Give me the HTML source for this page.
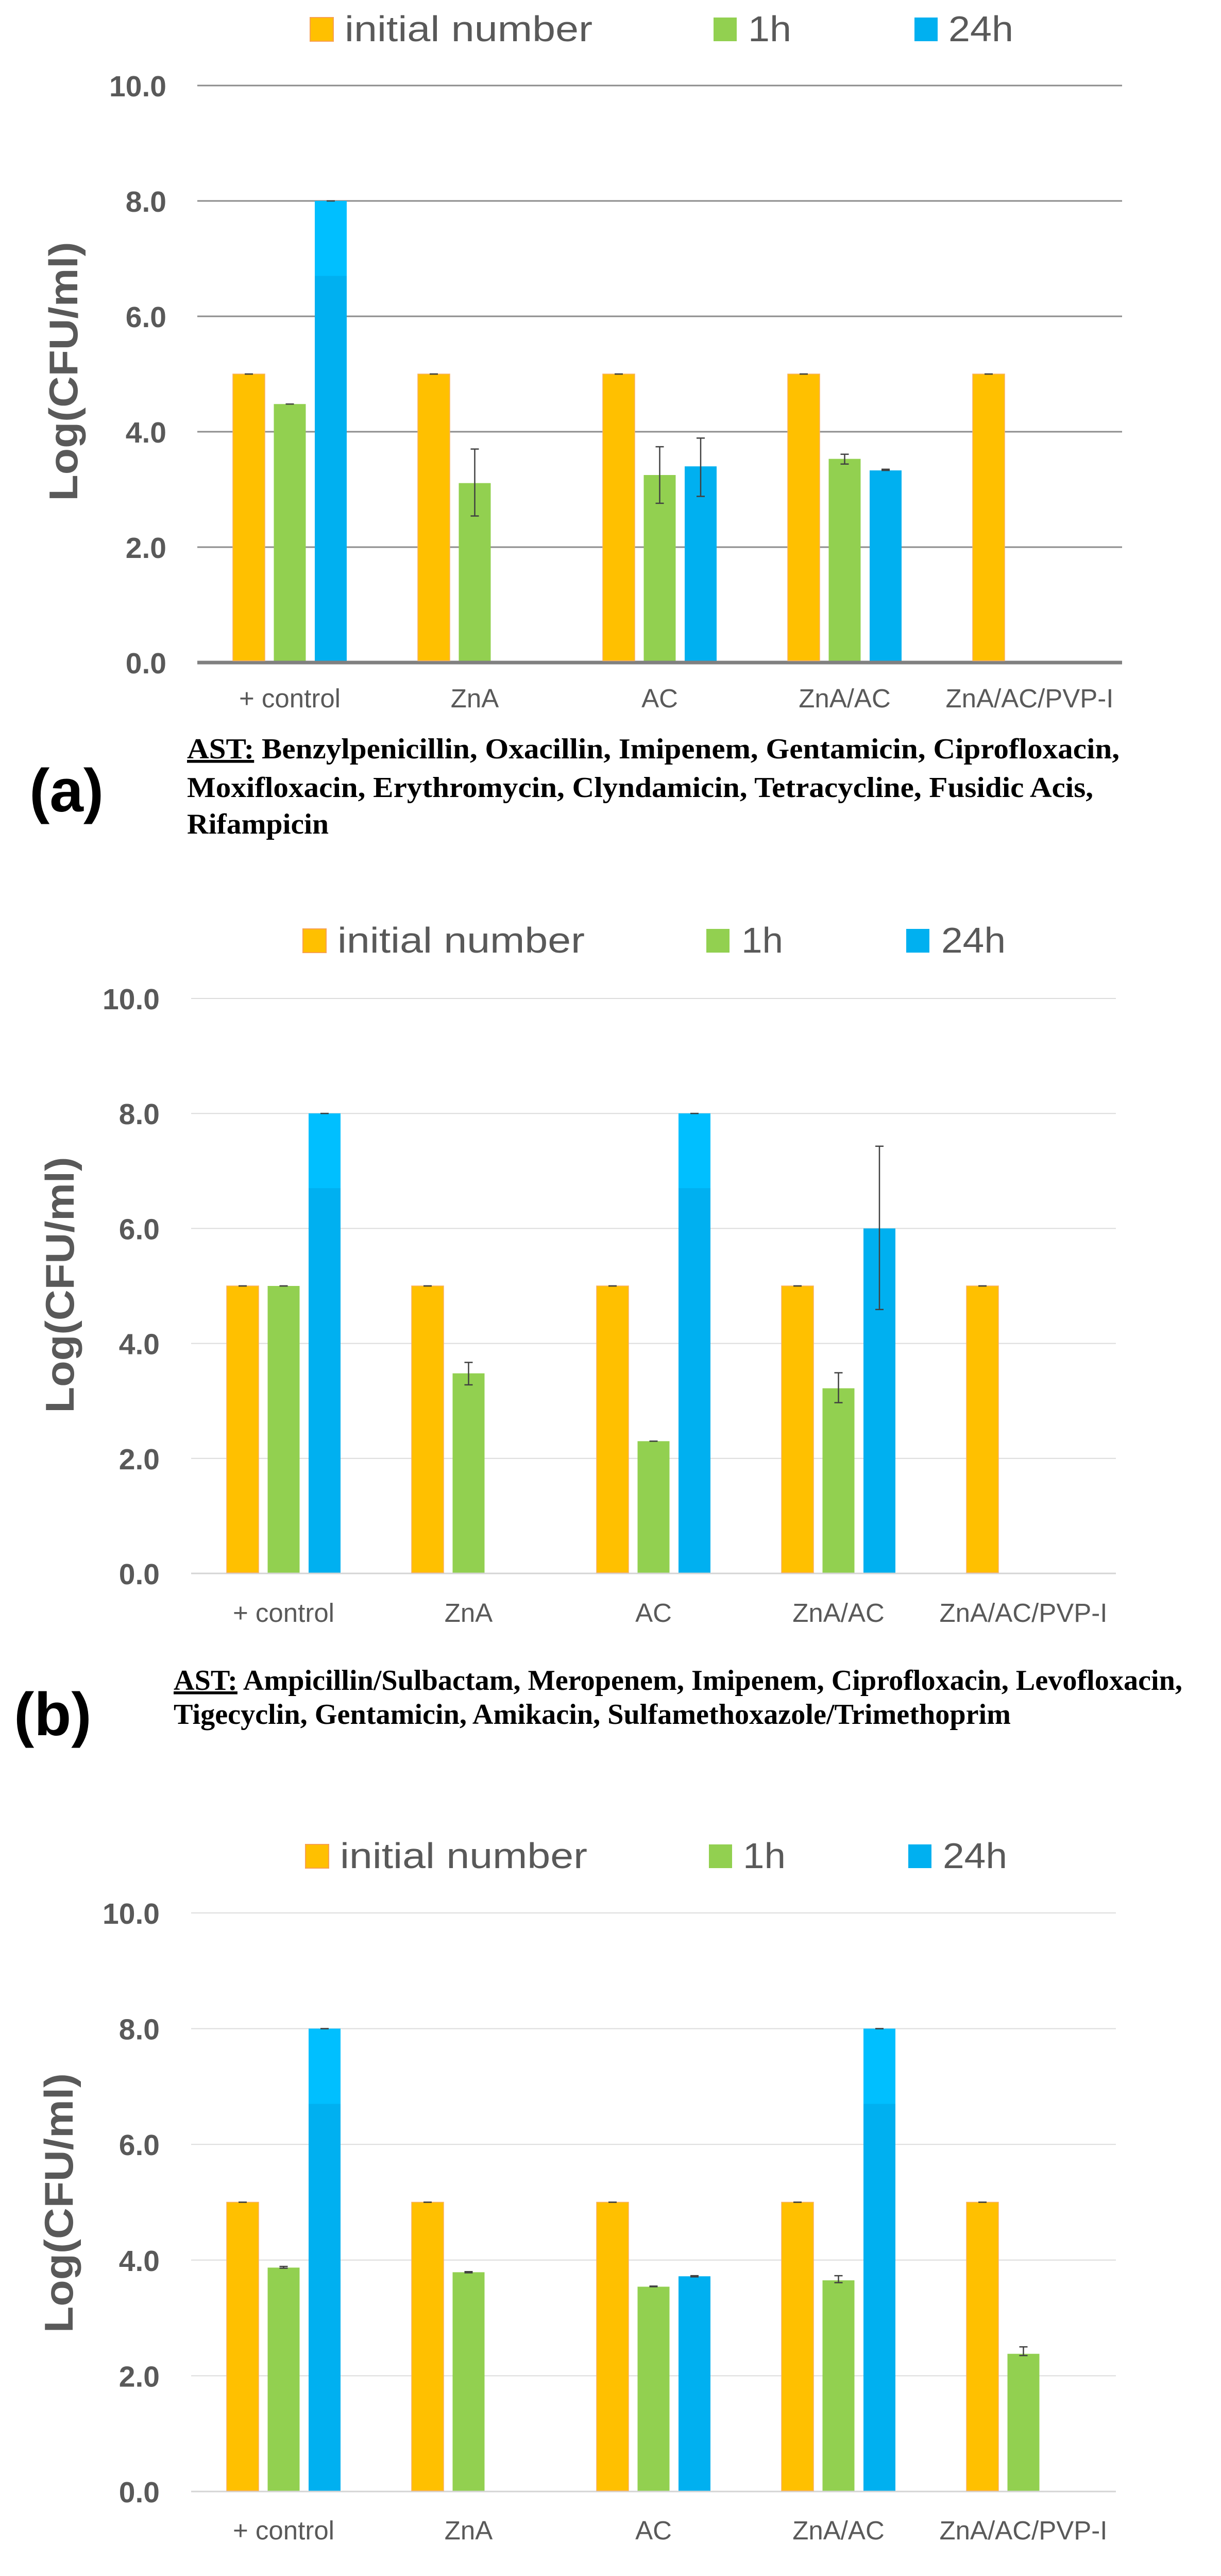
<!DOCTYPE html>
<html><head><meta charset="utf-8"><title>Log CFU charts</title>
<style>html,body{margin:0;padding:0;background:#fff;width:2370px;height:5189px;overflow:hidden;}svg{display:block;position:absolute;left:0;top:0;}</style>
</head><body>
<svg id="fig" xmlns="http://www.w3.org/2000/svg" width="2370" height="5189" viewBox="0 0 2370 5189">
<rect width="2370" height="5189" fill="#fff"/>
<text x="57" y="1575" font-family="Liberation Sans, sans-serif" font-weight="bold" font-size="118" fill="#000">(a)</text>
<text font-family="Liberation Serif, serif" font-weight="bold" font-size="56" fill="#000">
<tspan x="363" y="1472" textLength="1810" lengthAdjust="spacingAndGlyphs"><tspan text-decoration="underline">AST:</tspan> Benzylpenicillin, Oxacillin, Imipenem, Gentamicin, Ciprofloxacin,</tspan>
<tspan x="363" y="1547" textLength="1759" lengthAdjust="spacingAndGlyphs">Moxifloxacin, Erythromycin, Clyndamicin, Tetracycline, Fusidic Acis,</tspan>
<tspan x="363" y="1618" textLength="275" lengthAdjust="spacingAndGlyphs">Rifampicin</tspan></text>
<text x="27" y="3368" font-family="Liberation Sans, sans-serif" font-weight="bold" font-size="118" fill="#000">(b)</text>
<text font-family="Liberation Serif, serif" font-weight="bold" font-size="56" fill="#000">
<tspan x="337" y="3280" textLength="1958" lengthAdjust="spacingAndGlyphs"><tspan text-decoration="underline">AST:</tspan> Ampicillin/Sulbactam, Meropenem, Imipenem, Ciprofloxacin, Levofloxacin,</tspan>
<tspan x="337" y="3346" textLength="1625" lengthAdjust="spacingAndGlyphs">Tigecyclin, Gentamicin, Amikacin, Sulfamethoxazole/Trimethoprim</tspan></text>
<text x="45" y="5135" font-family="Liberation Sans, sans-serif" font-weight="bold" font-size="118" fill="#000">(c)</text>
<text font-family="Liberation Serif, serif" font-weight="bold" font-size="54" fill="#000">
<tspan x="396" y="5108" textLength="1301" lengthAdjust="spacingAndGlyphs"><tspan text-decoration="underline">AST:</tspan> Ceftazidime, Piperacillin, Gentamicin, Ciprofloxacin</tspan></text>
</svg>
<script>
// ---- data ----
const categories = ["+ control", "ZnA", "AC", "ZnA/AC", "ZnA/AC/PVP-I"];
const seriesNames = ["initial number", "1h", "24h"];
const yTicks = [0, 2, 4, 6, 8, 10];
const yTickLabels = ["0.0", "2.0", "4.0", "6.0", "8.0", "10.0"];
// chart (a)
const aInitial = [5, 5, 5, 5, 5];
const a1h = [4.48, 3.11, 3.25, 3.53, null];
const a1hErrLo = [4.48, 2.54, 2.76, 3.44, null];
const a1hErrHi = [4.48, 3.70, 3.74, 3.61, null];
const a24h = [8, null, 3.40, 3.33, null];
const a24hErrLo = [8, null, 2.88, 3.33, null];
const a24hErrHi = [8, null, 3.89, 3.35, null];
// chart (b)
const bInitial = [5, 5, 5, 5, 5];
const b1h = [5, 3.48, 2.30, 3.22, null];
const b1hErrLo = [5, 3.28, 2.30, 2.97, null];
const b1hErrHi = [5, 3.67, 2.30, 3.49, null];
const b24h = [8, null, 8, 6.0, null];
const b24hErrLo = [8, null, 8, 4.59, null];
const b24hErrHi = [8, null, 8, 7.43, null];
// chart (c)
const cInitial = [5, 5, 5, 5, 5];
const c1h = [3.87, 3.79, 3.54, 3.65, 2.38];
const c1hErrLo = [3.86, 3.78, 3.54, 3.61, 2.35];
const c1hErrHi = [3.89, 3.80, 3.55, 3.73, 2.50];
const c24h = [8, null, 3.72, 8, null];
const c24hErrLo = [8, null, 3.71, 8, null];
const c24hErrHi = [8, null, 3.73, 8, null];

const NS = "http://www.w3.org/2000/svg";
const svg = document.getElementById("fig");
const COLORS = ["#FFC000", "#92D050", "#00B0F0"];
const LIGHT_BLUE = "#00BFFF";

function mk(tag, attrs, parent) {
  const el = document.createElementNS(NS, tag);
  for (const k in attrs) el.setAttribute(k, attrs[k]);
  (parent || svg).appendChild(el);
  return el;
}

function drawChart(id, cfg, series, errLo, errHi) {
  const g = mk("g", {});
  
  
  const unit = (cfg.y0 - cfg.y10) / 10;
  const yS = v => cfg.y0 - v * unit;
  const groupW = (cfg.right - cfg.left) / categories.length;
  const xC = i => cfg.left + groupW * (i + 0.5);
  yTicks.forEach((t, k) => {
    const isAxis = t === 0;
    const ln = mk("line", {x1: cfg.left, x2: cfg.right, y1: yS(t), y2: yS(t),
      stroke: isAxis ? cfg.axisColor : cfg.gridColor, "stroke-width": isAxis ? cfg.axisW : cfg.gridW}, g);
    
    
    const tl = mk("text", {x: cfg.tickRight, y: yS(t) + 21, "text-anchor": "end",
      "font-family": "Liberation Sans, sans-serif", "font-weight": "bold", "font-size": 57, fill: "#595959"}, g);
    tl.textContent = yTickLabels[k];
    
    
  });
  const offs = [-79.5, 0, 79.5], bw = 62;
  series.forEach((arr, s) => {
    arr.forEach((v, i) => {
      if (v === null || v === undefined) return;
      const x = xC(i) + offs[s] - bw / 2;
      const r = mk("rect", {x: x, y: yS(v), width: bw, height: yS(0) - yS(v) - (cfg.axisW / 2),
        fill: COLORS[s], stroke: s === 0 ? "#F8B060" : "none", "stroke-width": s === 0 ? 1.5 : 0}, g);
      
      
      if (s === 2 && v >= 8) {
        const hl = mk("rect", {x: x, y: yS(v), width: bw, height: yS(6.7) - yS(v), fill: LIGHT_BLUE}, g);
        
        
      }
      let lo = v, hi = v;
      if (s > 0) { lo = errLo[s - 1][i]; hi = errHi[s - 1][i]; }
      const cx = xC(i) + offs[s];
      const eg = mk("g", {stroke: "#404040", "stroke-width": 2.5}, g);
      
      
      mk("line", {x1: cx, x2: cx, y1: yS(hi), y2: yS(lo)}, eg);
      mk("line", {x1: cx - 8, x2: cx + 8, y1: yS(hi), y2: yS(hi)}, eg);
      mk("line", {x1: cx - 8, x2: cx + 8, y1: yS(lo), y2: yS(lo)}, eg);
    });
  });
  categories.forEach((c, i) => {
    const t = mk("text", {x: xC(i), y: cfg.xLabelY, "text-anchor": "middle",
      "font-family": "Liberation Sans, sans-serif", "font-size": 51, fill: "#595959"}, g);
    t.textContent = c;
    
    
  });
  const yt = mk("text", {x: 0, y: 0, "text-anchor": "middle", transform: "translate(" + (cfg.titleX) + "," + cfg.titleY + ") rotate(-90)",
    "font-family": "Liberation Sans, sans-serif", "font-weight": "bold", "font-size": 78, fill: "#595959",
    textLength: cfg.titleLen, lengthAdjust: "spacingAndGlyphs"}, g);
  yt.textContent = "Log(CFU/ml)";
  
  
  const lg = mk("g", {}, g);
  
  
  cfg.legend.forEach((L, s) => {
    const sq = mk("rect", {x: L.sq, y: cfg.legY - 23, width: 45, height: 46, fill: COLORS[s],
      stroke: s === 0 ? "#F8A050" : "none", "stroke-width": 2}, lg);
    
    
    const tx = mk("text", {x: L.tx, y: cfg.legY + 23, "font-family": "Liberation Sans, sans-serif",
      "font-size": 70, fill: "#595959", textLength: L.w, lengthAdjust: "spacingAndGlyphs"}, lg);
    tx.textContent = seriesNames[s];
    
    
  });
}

drawChart("a", {left: 383, right: 2178, y0: 1286, y10: 166, axisColor: "#808080", axisW: 7, gridColor: "#8c8c8c", gridW: 3,
  tickRight: 323, xLabelY: 1373, titleX: 150, titleY: 721, titleLen: 503, legY: 57,
  legend: [{sq: 602, tx: 669, w: 481}, {sq: 1385, tx: 1452, w: 84}, {sq: 1775, tx: 1841, w: 126}]},
  [aInitial, a1h, a24h], [a1hErrLo, a24hErrLo], [a1hErrHi, a24hErrHi]);

drawChart("b", {left: 371, right: 2166, y0: 3054, y10: 1938, axisColor: "#d4d4d4", axisW: 3, gridColor: "#dcdcdc", gridW: 2,
  tickRight: 310, xLabelY: 3148, titleX: 143, titleY: 2494, titleLen: 497, legY: 1826,
  legend: [{sq: 588, tx: 655, w: 480}, {sq: 1371, tx: 1439, w: 81}, {sq: 1759, tx: 1827, w: 125}]},
  [bInitial, b1h, b24h], [b1hErrLo, b24hErrLo], [b1hErrHi, b24hErrHi]);

drawChart("c", {left: 371, right: 2166, y0: 4836, y10: 3713, axisColor: "#d4d4d4", axisW: 3, gridColor: "#dcdcdc", gridW: 2,
  tickRight: 310, xLabelY: 4929, titleX: 141, titleY: 4276, titleLen: 504, legY: 3603,
  legend: [{sq: 593, tx: 660, w: 480}, {sq: 1376, tx: 1442, w: 83}, {sq: 1763, tx: 1830, w: 125}]},
  [cInitial, c1h, c24h], [c1hErrLo, c24hErrLo], [c1hErrHi, c24hErrHi]);
</script>
</body></html>
